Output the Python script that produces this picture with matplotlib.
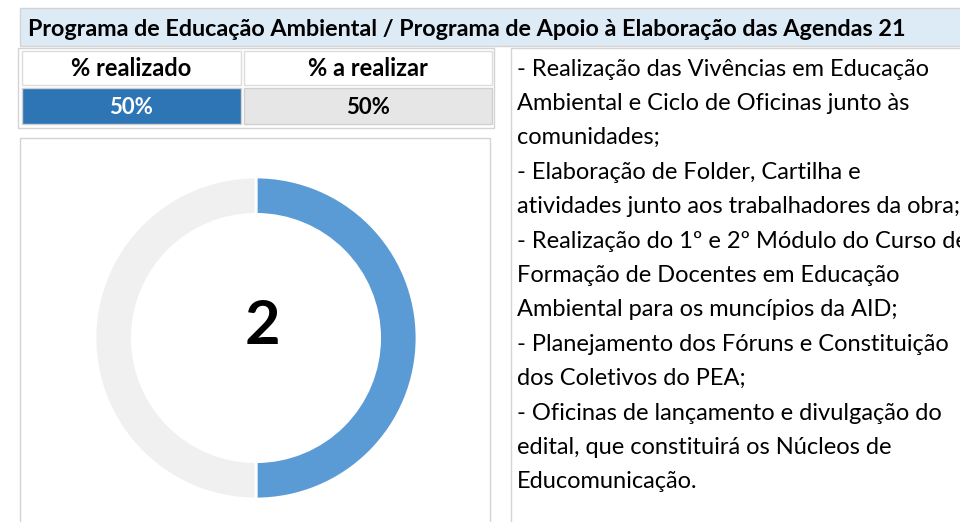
import matplotlib
matplotlib.use("Agg")
import matplotlib.pyplot as plt
import matplotlib.patches as patches

plt.rcParams['font.family'] = ['Lato', 'DejaVu Sans']

TITLE = "Programa de Educação Ambiental / Programa de Apoio à Elaboração das Agendas 21"
COLUMNS = ["% realizado", "% a realizar"]
PERCENTS = [50, 50]
CENTER_LABEL = "2"
NOTES = [
    "- Realização das Vivências em Educação",
    "Ambiental e Ciclo de Oficinas junto às",
    "comunidades;",
    "- Elaboração de Folder, Cartilha e",
    "atividades junto aos trabalhadores da obra;",
    "- Realização do 1º e 2º Módulo do Curso de",
    "Formação de Docentes em Educação",
    "Ambiental para os muncípios da AID;",
    "- Planejamento dos Fóruns e Constituição",
    "dos Coletivos do PEA;",
    "- Oficinas de lançamento e divulgação do",
    "edital, que constituirá os Núcleos de",
    "Educomunicação.",
]

BLUE_CELL = '#2e75b6'
GRAY_CELL = '#e6e6e6'
BLUE_RING = '#5b9bd5'
GRAY_RING = '#f0f0f0'
HEADER_FILL = '#ddebf7'
EDGE = '#d4d4d4'

W, H = 960, 522
fig = plt.figure(figsize=(W / 100, H / 100), dpi=100)
fig.patch.set_facecolor('white')

ax = fig.add_axes([0, 0, 1, 1])
ax.set_xlim(0, W)
ax.set_ylim(H, 0)
ax.axis('off')


def box(x0, y0, x1, y1, fc='white', ec=EDGE, lw=1.0):
    ax.add_patch(patches.Rectangle((x0, y0), x1 - x0, y1 - y0, facecolor=fc, edgecolor=ec, linewidth=lw))


# header band
box(20, 8, 962, 46, fc=HEADER_FILL)
ax.text(28, 29, TITLE, fontsize=16.8, fontweight='bold', va='center', ha='left', color='black')

# table
box(18, 48, 494, 128)
cells_x = [(22, 241), (244, 492)]
for (x0, x1), col in zip(cells_x, COLUMNS):
    box(x0, 51, x1, 85, fc='white', ec='#dcdcdc')
    ax.text((x0 + x1) / 2, 68, col, fontsize=17, fontweight='bold', ha='center', va='center')

fills = [BLUE_CELL, GRAY_CELL]
txt_colors = ['white', 'black']
for (x0, x1), p, fc, tc in zip(cells_x, PERCENTS, fills, txt_colors):
    box(x0, 88, x1, 124, fc=fc, ec='#d0d0d0')
    ax.text((x0 + x1) / 2, 107, f"{p}%", fontsize=16, fontweight='bold', ha='center', va='center', color=tc)

# chart frame and notes frame
box(20, 138, 490, 530)
box(511, 48, 970, 530)

for i, line in enumerate(NOTES):
    ax.text(517, 69 + i * 34.4, line, fontsize=17, ha='left', va='center', color='black')

# donut
cx, cy, r = 256, 338, 161
pax = fig.add_axes([(cx - r) / W, (H - cy - r) / H, 2 * r / W, 2 * r / H])
pax.pie(PERCENTS, colors=[BLUE_RING, GRAY_RING], startangle=90, counterclock=False,
        radius=1.0, wedgeprops=dict(width=0.232, edgecolor='white', linewidth=2))
pax.set_xlim(-1, 1)
pax.set_ylim(-1, 1)
pax.set_aspect('equal')
pax.axis('off')

ax.text(cx + 6, cy - 12, CENTER_LABEL, fontsize=44, fontweight='bold', ha='center', va='center')

fig.savefig('out.png', dpi=100)
